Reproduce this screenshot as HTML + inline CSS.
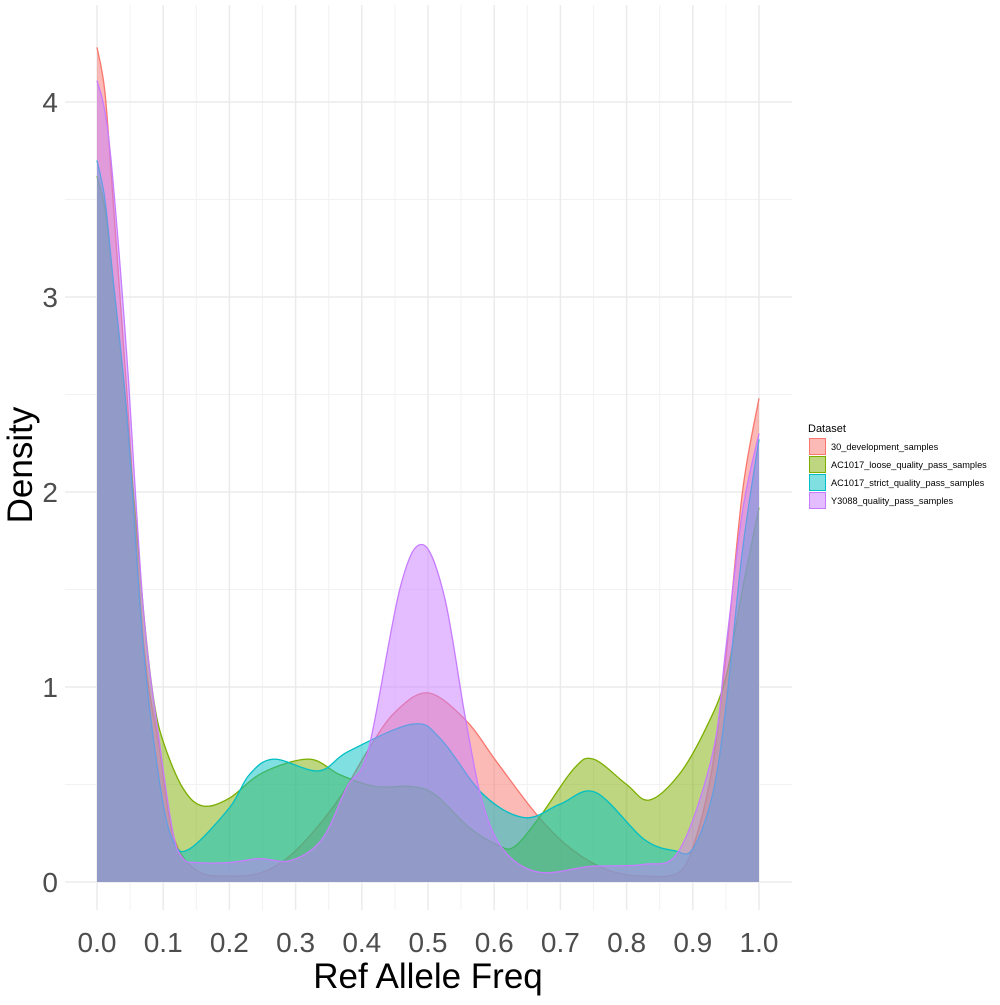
<!DOCTYPE html>
<html><head><meta charset="utf-8">
<style>
body{margin:0;background:#fff;}
svg text{font-family:"Liberation Sans",sans-serif;}
</style></head>
<body>
<svg id="chart" width="1000" height="1000" viewBox="0 0 1000 1000" xmlns="http://www.w3.org/2000/svg">
<rect width="1000" height="1000" fill="#fff"/>
<g id="grid"></g>
<g id="series"></g>
<g id="axes"></g>
<text x="0" y="0" transform="translate(32,465) rotate(-90)" text-anchor="middle" font-size="35" fill="#000">Density</text>
<text x="428" y="988" text-anchor="middle" font-size="35" fill="#000">Ref Allele Freq</text>
<g id="legend"></g>
</svg>
<script>
const seriesNames = ["30_development_samples","AC1017_loose_quality_pass_samples","AC1017_strict_quality_pass_samples","Y3088_quality_pass_samples"];
const seriesColors = ["#F8766D","#7CAE00","#00BFC4","#C77CFF"];
const redX = [0,0.012,0.024,0.045,0.07,0.095,0.115,0.15,0.2,0.25,0.29,0.33,0.37,0.41,0.45,0.5,0.557,0.605,0.668,0.72,0.773,0.826,0.879,0.905,0.93,0.95,0.975,1.0];
const redY = [4.28,4.05,3.51,2.52,1.24,0.67,0.24,0.06,0.03,0.05,0.13,0.27,0.45,0.68,0.87,0.97,0.83,0.61,0.33,0.16,0.06,0.03,0.05,0.23,0.6,1.15,2.0,2.48];
const greenX = [0,0.012,0.024,0.045,0.07,0.085,0.1,0.13,0.16,0.2,0.25,0.32,0.367,0.42,0.473,0.51,0.562,0.605,0.63,0.668,0.72,0.75,0.8,0.834,0.879,0.92,0.95,0.975,1.0];
const greenY = [3.62,3.45,3.1,2.4,1.4,0.95,0.72,0.48,0.39,0.43,0.56,0.63,0.55,0.49,0.49,0.45,0.28,0.19,0.18,0.33,0.58,0.63,0.5,0.42,0.55,0.79,1.05,1.5,1.92];
const cyanX = [0,0.012,0.024,0.045,0.07,0.095,0.115,0.14,0.2,0.23,0.267,0.335,0.38,0.477,0.52,0.583,0.646,0.7,0.753,0.826,0.873,0.9,0.93,0.95,0.975,1.0];
const cyanY = [3.7,3.5,3.1,2.4,1.2,0.5,0.21,0.17,0.38,0.55,0.63,0.57,0.67,0.81,0.73,0.45,0.33,0.4,0.46,0.22,0.16,0.17,0.45,0.9,1.7,2.27];
const purpleX = [0,0.012,0.024,0.045,0.07,0.095,0.115,0.13,0.15,0.2,0.246,0.293,0.34,0.378,0.41,0.458,0.492,0.525,0.557,0.583,0.615,0.668,0.746,0.826,0.879,0.93,0.95,0.975,1.0];
const purpleY = [4.11,3.95,3.6,2.7,1.4,0.7,0.25,0.12,0.1,0.1,0.12,0.11,0.22,0.49,0.68,1.51,1.73,1.46,0.83,0.40,0.16,0.05,0.08,0.09,0.16,0.66,1.2,1.9,2.3];
const xTicks = [0,0.1,0.2,0.3,0.4,0.5,0.6,0.7,0.8,0.9,1.0];
const xTickLabels = ["0.0","0.1","0.2","0.3","0.4","0.5","0.6","0.7","0.8","0.9","1.0"];
const yTicks = [0,1,2,3,4];
const yTickLabels = ["0","1","2","3","4"];

const NS="http://www.w3.org/2000/svg";
const PX0=65,PX1=792,PY0=5,PY1=910;
function sx(v){return 97+662*v;}
function sy(v){return 882-195*v;}
function mk(tag,attrs,parent){const e=document.createElementNS(NS,tag);for(const k in attrs)e.setAttribute(k,attrs[k]);parent.appendChild(e);return e;}

const grid=document.getElementById('grid');
mk('rect',{x:PX0,y:PY0,width:PX1-PX0,height:PY1-PY0,fill:'#fff'},grid);
for(let i=-1;i<=21;i+=2){const v=i*0.05;const x=sx(v);if(x<PX0||x>PX1)continue;
 const l=mk('line',{x1:x,x2:x,y1:PY0,y2:PY1,stroke:'#f2f2f2','stroke-width':1},grid);
 }
for(let i=-1;i<=9;i+=2){const v=i*0.5;const y=sy(v);if(y<PY0||y>PY1)continue;
 const l=mk('line',{x1:PX0,x2:PX1,y1:y,y2:y,stroke:'#f2f2f2','stroke-width':1},grid);
 }
xTicks.forEach(v=>{const l=mk('line',{x1:sx(v),x2:sx(v),y1:PY0,y2:PY1,stroke:'#ebebeb','stroke-width':1.5},grid);
 });
yTicks.forEach(v=>{const l=mk('line',{x1:PX0,x2:PX1,y1:sy(v),y2:sy(v),stroke:'#ebebeb','stroke-width':1.5},grid);
 });

function curvePath(xs,ys){
 const p=xs.map((x,i)=>[sx(x),sy(ys[i])]);
 let d='M'+p[0][0]+','+p[0][1];
 for(let i=0;i<p.length-1;i++){
  const p0=p[Math.max(0,i-1)],p1=p[i],p2=p[i+1],p3=p[Math.min(p.length-1,i+2)];
  const c1x=p1[0]+(p2[0]-p0[0])/6,c2x=p2[0]-(p3[0]-p1[0])/6;
  let c1y=p1[1]+(p2[1]-p0[1])/6,c2y=p2[1]-(p3[1]-p1[1])/6;
  c1y=Math.min(c1y,sy(0));c2y=Math.min(c2y,sy(0));
  d+=' C'+c1x.toFixed(2)+','+c1y.toFixed(2)+' '+c2x.toFixed(2)+','+c2y.toFixed(2)+' '+p2[0].toFixed(2)+','+p2[1].toFixed(2);
 }
 return d;
}
const seriesData=[[redX,redY],[greenX,greenY],[cyanX,cyanY],[purpleX,purpleY]];
const sg=document.getElementById('series');
const keys=['area-30-development','area-ac1017-loose','area-ac1017-strict','area-y3088'];
seriesData.forEach((s,i)=>{
 const line=curvePath(s[0],s[1]);
 const xe=sx(s[0][s[0].length-1]),xb=sx(s[0][0]);
 const a=mk('path',{d:line+' L'+xe+','+sy(0)+' L'+xb+','+sy(0)+' Z',fill:seriesColors[i],'fill-opacity':0.5,stroke:'none'},sg);
 
 
 const l=mk('path',{d:line,fill:'none',stroke:seriesColors[i],'stroke-width':1.3},sg);
 
 
});

const ax=document.getElementById('axes');
xTicks.forEach((v,i)=>{const t=mk('text',{x:sx(v),y:952,'text-anchor':'middle','font-size':28,fill:'#4d4d4d'},ax);t.textContent=xTickLabels[i];
 });
yTicks.forEach((v,i)=>{const t=mk('text',{x:58,y:sy(v)+10,'text-anchor':'end','font-size':28,fill:'#4d4d4d'},ax);t.textContent=yTickLabels[i];
 });

const lg=document.getElementById('legend');
const tt=mk('text',{x:808,y:432,'font-size':11,fill:'#000'},lg);tt.textContent='Dataset';

seriesNames.forEach((n,i)=>{const y=438+i*18;
 const r=mk('rect',{x:809.5,y:y+0.5,width:16,height:16,fill:seriesColors[i],'fill-opacity':0.5,stroke:seriesColors[i],'stroke-width':1},lg);
 
 const t=mk('text',{x:831,y:y+12,'font-size':9.2,fill:'#000'},lg);t.textContent=n;
 });
</script>
</body></html>
